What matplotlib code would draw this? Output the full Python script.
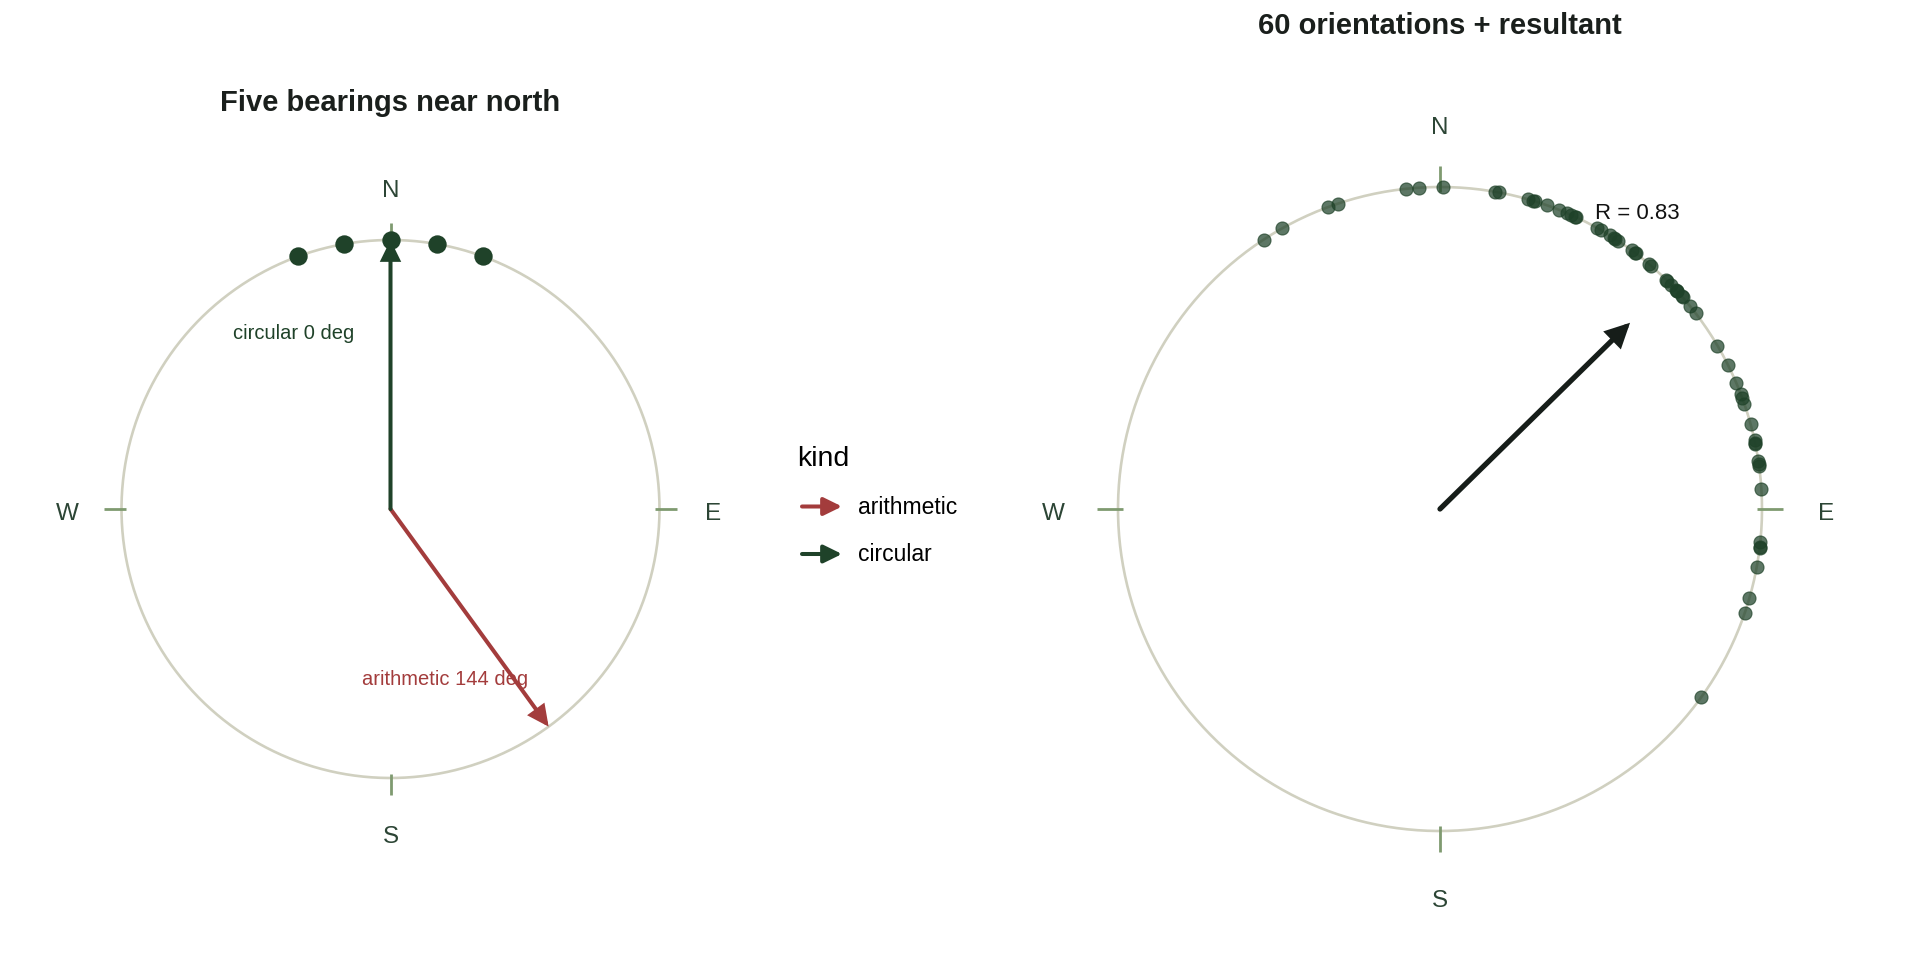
import numpy as np
import matplotlib
matplotlib.use("Agg")
import matplotlib.pyplot as plt
from matplotlib.transforms import offset_copy

plt.rcParams['font.family'] = ['Liberation Sans', 'DejaVu Sans']

# ---------------- data ----------------
compass_labels = ["N", "E", "S", "W"]
compass_bearings = [0, 90, 180, 270]

five_bearings = [340, 350, 0, 10, 20]
kinds = ["arithmetic", "circular"]
kind_colors = {"arithmetic": "#a33c3c", "circular": "#1f4229"}

orientations = [
    326.8, 330.7, 339.6, 341.5, 354.0, 356.3, 0.6,
    9.9, 10.5,
    15.9, 16.7, 17.1,
    19.4, 21.7,
    23.3, 24.1, 24.8, 25.0,
    29.1, 29.9,
    31.8, 32.8, 32.9, 33.6,
    36.6, 37.3, 37.4,
    40.5, 41.0,
    44.6, 44.8, 45.9, 47.2, 47.3, 47.5, 48.6, 48.9,
    51.0, 52.6,
    59.5, 63.4, 66.9,
    69.0, 69.8, 70.9,
    74.7,
    77.7, 78.2, 78.4,
    81.4, 82.0, 82.4,
    86.4,
    95.9, 96.8, 97.0, 100.4, 106.1, 108.9, 125.7,
]

titles = ["Five bearings near north", "60 orientations + resultant"]
legend_title = "kind"

# ---------------- style ----------------
W, H = 1920, 979
DPI = 100
circle_col = "#d0d0c0"
tick_col = "#7f9a70"
label_col = "#2c4535"
point_col = "#1f4229"
title_col = "#1a1f1c"
res_col = "#161d19"


def bx(deg, r=1.0):
    a = np.deg2rad(deg)
    return r * np.sin(a), r * np.cos(a)


def make_axes(fig, cx, cy, R, L=1.45):
    size = 2 * L * R
    left = (cx - size / 2) / W
    bottom = (H - (cy + size / 2)) / H
    ax = fig.add_axes([left, bottom, size / W, size / H])
    ax.set_xlim(-L, L)
    ax.set_ylim(-L, L)
    ax.set_aspect("equal")
    ax.axis("off")
    return ax


def compass(ax):
    t = np.linspace(0, 2 * np.pi, 400)
    ax.plot(np.sin(t), np.cos(t), color=circle_col, lw=1.9, zorder=1, clip_on=False)
    lab_tr = offset_copy(ax.transData, fig=ax.figure, x=0, y=-3, units="points")
    for lab, b in zip(compass_labels, compass_bearings):
        x0, y0 = bx(b, 0.985)
        x1, y1 = bx(b, 1.065)
        ax.plot([x0, x1], [y0, y1], color=tick_col, lw=2.0, zorder=2,
                solid_capstyle="butt", clip_on=False)
        lx, ly = bx(b, 1.2)
        ax.text(lx, ly, lab, ha="center", va="center", fontsize=17.5,
                color=label_col, clip_on=False, transform=lab_tr)


def arrow(ax, x0, y0, x1, y1, color, lw, hl=0.55, hw=0.27):
    ax.annotate("", xy=(x1, y1), xytext=(x0, y0),
                arrowprops=dict(arrowstyle=f"-|>,head_length={hl},head_width={hw}",
                                mutation_scale=20, lw=lw, color=color,
                                shrinkA=0, shrinkB=0, joinstyle="miter"),
                zorder=5, annotation_clip=False)


fig = plt.figure(figsize=(W / DPI, H / DPI), dpi=DPI)

# ---------------- left panel ----------------
axL = make_axes(fig, 390.5, 510, 269)
compass(axL)
fb = np.array(five_bearings, dtype=float)
px, py = bx(fb)
axL.scatter(px, py, s=175, color=point_col, zorder=4, clip_on=False, linewidths=0)

arith = fb.mean()
circ = np.rad2deg(np.arctan2(np.sin(np.deg2rad(fb)).mean(),
                             np.cos(np.deg2rad(fb)).mean())) % 360
means = {"arithmetic": arith, "circular": circ}
for k in kinds:
    ex, ey = bx(means[k])
    arrow(axL, 0, 0, ex, ey, kind_colors[k], 2.9)

axL.text(-0.36, 0.657, f"circular {circ:.0f} deg", ha="center", va="center",
         fontsize=14.5, color=kind_colors["circular"], zorder=6)
axL.text(0.203, -0.63, f"arithmetic {arith:.0f} deg", ha="center", va="center",
         fontsize=14.5, color=kind_colors["arithmetic"], zorder=6)

# ---------------- right panel ----------------
axR = make_axes(fig, 1440, 510, 322)
compass(axR)
ob = np.array(orientations, dtype=float)
ox, oy = bx(ob)
axR.scatter(ox, oy, s=88, color=point_col, alpha=0.72, zorder=4,
            edgecolors=point_col, linewidths=0.8, clip_on=False)
mx = np.sin(np.deg2rad(ob)).mean()
my = np.cos(np.deg2rad(ob)).mean()
Rbar = np.hypot(mx, my)
arrow(axR, 0, 0, mx, my, res_col, 3.8, hl=0.6, hw=0.3)
axR.text(0.48, 0.92, f"R = {Rbar:.2f}", ha="left", va="center",
         fontsize=16, color="#111111", zorder=6)

# ---------------- overlay: titles + legend ----------------
ov = fig.add_axes([0, 0, 1, 1])
ov.set_xlim(0, W)
ov.set_ylim(H, 0)
ov.axis("off")
ov.patch.set_alpha(0)

ov.text(390.5, 103, titles[0], ha="center", va="center", fontsize=21,
        fontweight="bold", color=title_col)
ov.text(1440, 25.5, titles[1], ha="center", va="center", fontsize=21,
        fontweight="bold", color=title_col)

ov.text(797, 459, legend_title, ha="left", va="center", fontsize=20.5, color="black")
for i, k in enumerate(kinds):
    y = 507.5 + i * 47.5
    ov.annotate("", xy=(842, y), xytext=(802, y),
                arrowprops=dict(arrowstyle="-|>,head_length=0.55,head_width=0.27",
                                mutation_scale=20, lw=2.9, color=kind_colors[k],
                                shrinkA=0, shrinkB=0), annotation_clip=False)
    ov.text(858, y, k, ha="left", va="center", fontsize=16.5, color="black")

fig.savefig("out.png", dpi=DPI, facecolor="white")
